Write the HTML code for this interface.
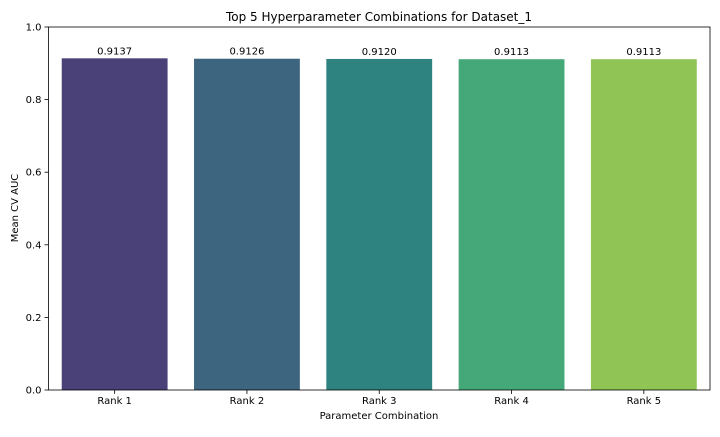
<!DOCTYPE html>
<html><head><meta charset="utf-8"><style>
body{margin:0;background:#fff;font-family:"Liberation Sans","DejaVu Sans",sans-serif;}
svg text{font-family:"DejaVu Sans","Liberation Sans",sans-serif;fill:#000;}
</style></head><body>
<svg id="chart" width="720" height="432" viewBox="0 0 720 432" xmlns="http://www.w3.org/2000/svg">
<text x="379" y="21" font-size="12" text-anchor="middle">Top 5 Hyperparameter Combinations for Dataset_1</text>
<g id="bars"></g>
<g id="axes"></g>
<text x="379" y="419" font-size="10" text-anchor="middle">Parameter Combination</text>
<text transform="translate(18,208) rotate(-90)" font-size="10" text-anchor="middle">Mean CV AUC</text>
</svg>
<script>
const categories = ["Rank 1","Rank 2","Rank 3","Rank 4","Rank 5"];
const values = [0.9137,0.9126,0.9120,0.9113,0.9113];
const valueLabels = ["0.9137","0.9126","0.9120","0.9113","0.9113"];
const yTicks = [0,0.2,0.4,0.6,0.8,1.0];
const yTickLabels = ["0.0","0.2","0.4","0.6","0.8","1.0"];
const colors = ["#4a4178","#3d6580","#2e8380","#45a878","#90c556"];
const L=48.5,R=710,T=27,B=390;
const NS="http://www.w3.org/2000/svg";
const step=(R-L)/categories.length;
const xc=i=>L+step*(i+0.5);
const y=v=>B-(B-T)*v;
function mk(tag,attrs,parent){const e=document.createElementNS(NS,tag);for(const k in attrs)e.setAttribute(k,attrs[k]);parent.appendChild(e);return e;}
const bars=document.getElementById('bars'),axes=document.getElementById('axes');
categories.forEach((c,i)=>{
  const w=step*0.8;
  const r=mk('rect',{x:xc(i)-w/2,y:y(values[i]),width:w,height:B-y(values[i]),fill:colors[i]},bars);
  
  
  const t=mk('text',{x:xc(i),y:y(values[i])-4,'font-size':10,'text-anchor':'middle'},bars);
  t.textContent=valueLabels[i];
  
  
  const tk=mk('line',{x1:xc(i),x2:xc(i),y1:B,y2:B+4,stroke:'#000','stroke-width':0.8},axes);
  
  
  const tl=mk('text',{x:xc(i),y:B+14,'font-size':10,'text-anchor':'middle'},axes);
  tl.textContent=c;
  
  
});
yTicks.forEach((v,i)=>{
  const tk=mk('line',{x1:L-4,x2:L,y1:y(v),y2:y(v),stroke:'#000','stroke-width':0.8},axes);
  
  
  const tl=mk('text',{x:L-7,y:y(v)+3.5,'font-size':10,'text-anchor':'end'},axes);
  tl.textContent=yTickLabels[i];
  
  
});
const fr=mk('rect',{x:L,y:T,width:R-L,height:B-T,fill:'none',stroke:'#000','stroke-width':0.8},axes);


</script>
</body></html>
